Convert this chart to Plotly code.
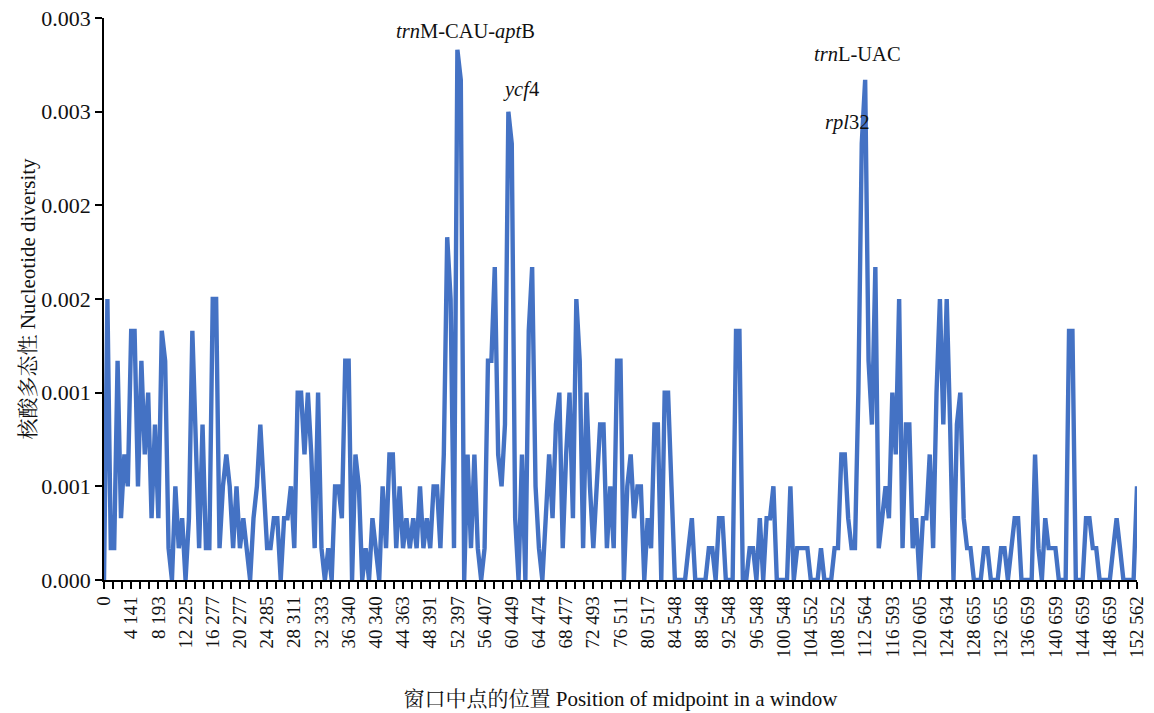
import plotly.graph_objects as go

# Nucleotide diversity (Pi) per sliding window, in window order
pi_region_a = [
    0, 0.0015, 0.00017, 0.00017, 0.00117, 0.00033, 0.00067, 0.0005, 0.00133, 0.00133,
    0.0005, 0.00117, 0.00067, 0.001, 0.00033, 0.00083, 0.00033, 0.00133, 0.00117, 0.00017,
    0, 0.0005, 0.00017, 0.00033, 0, 0.00033, 0.00133, 0.00083, 0.00017, 0.00083,
    0.00017, 0.00017, 0.0015, 0.0015, 0.00017, 0.0005, 0.00067, 0.0005, 0.00017, 0.0005,
    0.00017, 0.00033, 0.00017, 0, 0.00033, 0.0005, 0.00083, 0.0005, 0.00017, 0.00017,
    0.00033, 0.00033, 0, 0.00033, 0.00033, 0.0005, 0.00017, 0.001, 0.001, 0.00067,
    0.001, 0.00067, 0.00017,
]
pi_region_b = [
    0.001, 0.00017, 0, 0.00017, 0, 0.0005, 0.0005, 0.00033, 0.00117, 0.00117,
    0, 0.00067, 0.0005, 0, 0.00017, 0, 0.00033, 0.00017, 0, 0.0005,
    0.00017, 0.00067, 0.00067, 0.00017, 0.0005, 0.00017, 0.00033, 0.00017, 0.00033, 0.00017,
    0.0005, 0.00017, 0.00033, 0.00017, 0.0005, 0.0005, 0.00017, 0.00067, 0.00183, 0.0015,
    0.00017, 0.00283, 0.00267, 0, 0.00067, 0.00017, 0.00067, 0.00017, 0, 0.00017,
    0.00117, 0.00117, 0.00167, 0.00067, 0.0005, 0.00083, 0.0025, 0.00233, 0.00033, 0,
    0.00067, 0, 0.00133, 0.00167,
]
pi_region_c = [
    0.0005, 0.00017, 0, 0.00033, 0.00067, 0.00033, 0.00083, 0.001, 0.00017, 0.00067,
    0.001, 0.00033, 0.0015, 0.00117, 0.00017, 0.001, 0.0005, 0.00017, 0.0005, 0.00083,
    0.00083, 0.00017, 0.0005, 0.00017, 0.00117, 0.00117, 0, 0.0005, 0.00067, 0.00033,
    0.0005, 0.0005, 0, 0.00033, 0.00017, 0.00083, 0.00083, 0, 0.001, 0.001,
    0.0005, 0, 0, 0, 0, 0.00017, 0.00033, 0, 0, 0,
    0, 0.00017, 0.00017, 0, 0.00033, 0.00033, 0, 0, 0, 0.00133,
    0.00133,
]
pi_region_d = [
    0, 0, 0.00017, 0.00017, 0, 0.00033, 0, 0.00033, 0.00033, 0.0005,
    0, 0, 0, 0, 0.0005, 0, 0.00017, 0.00017, 0.00017, 0.00017,
    0, 0, 0, 0.00017, 0, 0, 0, 0.00017, 0.00017, 0.00067,
    0.00067, 0.00033, 0.00017, 0.00017, 0.001, 0.00233, 0.00267, 0.00117, 0.00083, 0.00167,
    0.00017, 0.00033, 0.0005, 0.00033, 0.001, 0.00067, 0.0015, 0.00017, 0.00083, 0.00083,
    0.00017, 0.00033, 0, 0.00033, 0.00033, 0.00067, 0.00017, 0.001, 0.0015, 0.00083,
    0.0015, 0.00083, 0, 0.00083, 0.001, 0.00033, 0.00017, 0.00017, 0, 0,
    0, 0.00017, 0.00017, 0, 0, 0, 0.00017, 0.00017, 0, 0.00017,
    0.00033, 0.00033, 0, 0, 0, 0, 0.00067, 0.00017, 0, 0.00033,
    0.00017, 0.00017, 0.00017, 0, 0, 0, 0.00133, 0.00133, 0, 0,
    0, 0.00033, 0.00033, 0.00017, 0.00017, 0, 0, 0, 0, 0.00017,
    0.00033, 0.00017, 0, 0, 0, 0, 0.0005,
]

# Category (window midpoint) labels shown on the x axis
midpoint_labels = [
    "0", "4 141", "8 193", "12 225", "16 277", "20 277", "24 285", "28 311",
    "32 333", "36 340", "40 340", "44 363", "48 391", "52 397", "56 407",
    "60 449", "64 474", "68 477", "72 493", "76 511", "80 517", "84 548",
    "88 548", "92 548", "96 548", "100 548", "104 552", "108 552", "112 564",
    "116 593", "120 605", "124 634", "128 655", "132 655", "136 659",
    "140 659", "144 659", "148 659", "152 562",
]

# Y-axis tick values and their printed labels
y_tick_values = [0, 0.0005, 0.001, 0.0015, 0.002, 0.0025, 0.003]
y_tick_labels = ["0.000", "0.001", "0.001", "0.002", "0.002", "0.003", "0.003"]

# Labelled hotspots: (html text, window index, Pi level of label)
hotspots = [
    ("<i>trn</i>M-CAU-<i>apt</i>B", 106.5, 0.00293),
    ("<i>ycf</i>4", 122.7, 0.00262),
    ("<i>trn</i>L-UAC", 221.8, 0.00281),
    ("<i>rpl</i>32", 218.6, 0.00244),
]

pi_values = pi_region_a + pi_region_b + pi_region_c + pi_region_d
window_index = list(range(len(pi_values)))
last = len(pi_values) - 1
n_lab = len(midpoint_labels)
label_step = last / (n_lab - 1)
tick_positions = [i * label_step for i in range(n_lab)]

SERIF = "Liberation Serif, Times New Roman, Noto Serif CJK SC, Noto Sans CJK SC, serif"
INK = "#111111"

fig = go.Figure()
fig.add_trace(go.Scatter(
    x=window_index, y=pi_values, mode="lines",
    line=dict(color="#4472C4", width=4.4),
    cliponaxis=False, hoverinfo="skip", showlegend=False,
))

for text, xi, yv in hotspots:
    fig.add_annotation(x=xi, y=yv, text=text, showarrow=False,
                       xanchor="center", yanchor="middle",
                       font=dict(family=SERIF, size=20.5, color=INK))

fig.update_layout(
    width=1154, height=713,
    margin=dict(l=104, r=17, t=18, b=133),
    paper_bgcolor="white", plot_bgcolor="white",
    font=dict(family=SERIF, size=19, color=INK),
)

fig.update_xaxes(
    range=[0, last], automargin=False,
    tickmode="array", tickvals=tick_positions, ticktext=midpoint_labels,
    tickangle=-90, ticks="outside", ticklen=7, tickwidth=1.5, tickcolor="black",
    minor=dict(dtick=label_step / 3, tick0=0, ticks="outside", ticklen=7,
               tickwidth=1.5, tickcolor="black", showgrid=False),
    showline=True, linecolor="black", linewidth=1.5,
    showgrid=False, zeroline=False,
    tickfont=dict(family=SERIF, size=19, color=INK),
    title=dict(text="窗口中点的位置 Position of midpoint in a window",
               font=dict(family=SERIF, size=21, color=INK), standoff=34),
)

fig.update_yaxes(
    range=[0, 0.003], automargin=False,
    tickmode="array", tickvals=y_tick_values, ticktext=y_tick_labels,
    ticks="outside", ticklen=7, tickwidth=1.5, tickcolor="black",
    showline=True, linecolor="black", linewidth=1.5,
    showgrid=False, zeroline=False,
    tickfont=dict(family=SERIF, size=22, color=INK),
    title=dict(text="核酸多态性 Nucleotide diversity",
               font=dict(family=SERIF, size=21, color=INK), standoff=0),
)

fig.write_html("out.html")
